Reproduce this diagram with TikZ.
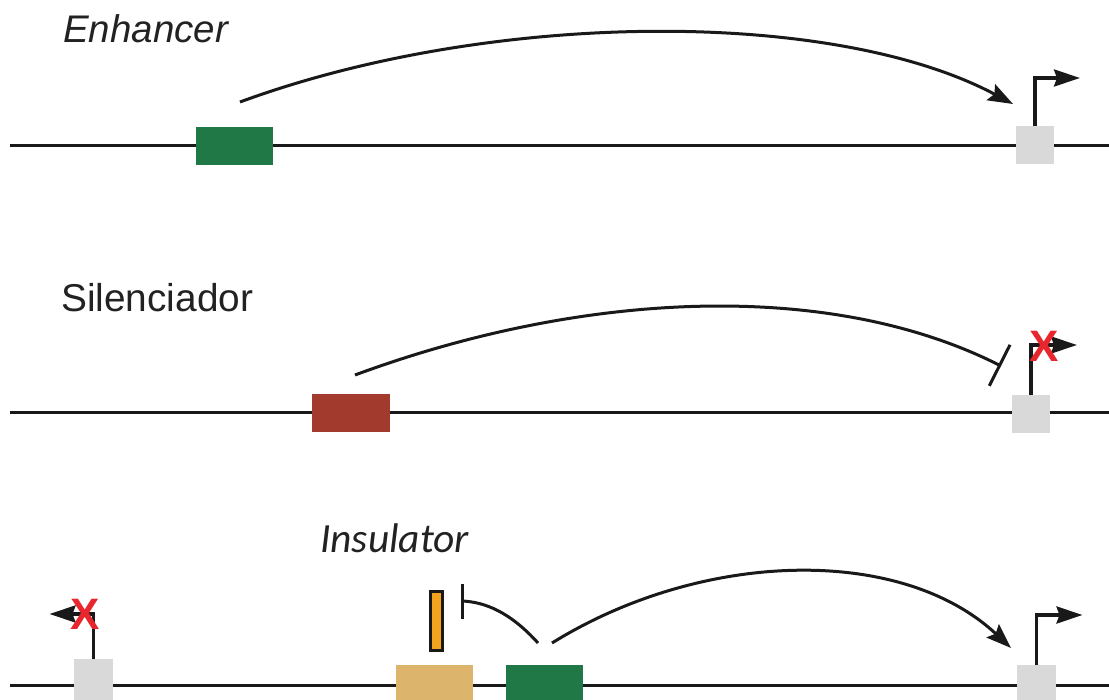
\documentclass[tikz,border=0pt]{standalone}
\usepackage{fontspec}
\setmainfont{Liberation Sans}
\newfontfamily\calibri{Carlito}
\usetikzlibrary{arrows.meta}
\definecolor{enhgreen}{HTML}{217847}
\definecolor{silred}{HTML}{A23B2E}
\definecolor{promgrey}{HTML}{D9D9D9}
\definecolor{instan}{HTML}{DDB46B}
\definecolor{insorange}{HTML}{F2A41E}
\definecolor{xred}{HTML}{E8262D}
\definecolor{txt}{HTML}{222222}
\tikzset{
  dna/.style={line width=3pt, black!90},
  elem/.style={draw=none, inner sep=0pt, outer sep=0pt, minimum height=38pt},
  prom/.style={elem, fill=promgrey, minimum width=38pt},
  loop/.style={line width=3pt, black!90, -{Stealth[length=25pt,width=18pt,inset=4pt]}},
  block/.style={line width=3pt, black!90, -{Bar[width=46pt,line width=3pt]}},
  tss/.style={line width=3.2pt, black!90, -{Stealth[length=26pt,width=17pt,inset=3pt]}},
  xmark/.style={text=xred, font=\bfseries\fontsize{44}{44}\selectfont, inner sep=0pt},
  lbl/.style={text=txt, inner sep=0pt, anchor=base west}
}
\begin{document}
\begin{tikzpicture}[x=1pt,y=-1pt]
\useasboundingbox (0,0) rectangle (1109,700);
\clip (0,0) rectangle (1109,700);
% labels
\node[lbl, font=\itshape\fontsize{38.5}{40}\selectfont] (lenh) at (63,43) {Enhancer};
\node[lbl, font=\fontsize{38.8}{40}\selectfont] (lsil) at (61,312) {Silenciador};
\node[lbl, font=\calibri\itshape\fontsize{41.5}{44}\selectfont] (lins) at (320,552) {Insulator};
% DNA lines
\coordinate (a1) at (10,146); \coordinate (b1) at (1109,146);
\coordinate (a2) at (10,413); \coordinate (b2) at (1109,413);
\coordinate (a3) at (10,685); \coordinate (b3) at (1109,685);
\draw[dna] (a1) -- (b1);
\draw[dna] (a2) -- (b2);
\draw[dna] (a3) -- (b3);
% row 1
\node[elem, fill=enhgreen, minimum width=77pt] (g1) at (234.5,146) {};
\node[prom] (p1) at (1035,145) {};
\coordinate (s1) at (240,102);
\coordinate (e1) at (1013,104);
\draw[loop] (s1) .. controls (490,10) and (833,8) .. (e1);
\draw[tss] (p1.north) -- ++(0,-48) -- ++(45,0);
% row 2
\node[elem, fill=silred, minimum width=78pt] (r2) at (351,413) {};
\node[prom] (p2) at (1031,414) {};
\coordinate (s2) at (355,375);
\coordinate (e2) at (1001,366);
\draw[block] (s2) .. controls (585,290) and (831,280) .. (e2);
\draw[tss] (p2.north) -- ++(0,-50) coordinate (k2) -- ++(46,0);
\node[xmark] (x2) at (1044,346) {X};
% row 3
\node[prom, minimum width=39pt, minimum height=52pt] (p3l) at (93.5,685) {};
\node[elem, fill=instan, minimum width=77pt, minimum height=40pt] (t3) at (434.5,685) {};
\node[elem, fill=enhgreen, minimum width=77pt, minimum height=40pt] (g3) at (544.5,685) {};
\node[prom, minimum width=39pt, minimum height=40pt] (p3r) at (1036.5,685) {};
\node[draw=black!90, line width=2.2pt, fill=insorange, inner sep=0pt, minimum width=12pt, minimum height=59pt] (ins) at (436.5,621) {};
\draw[tss] (p3l.north) -- ++(0,-45) -- ++(-44,0);
\node[xmark] (x3) at (85,614) {X};
\draw[tss] (p3r.north) -- ++(0,-50) -- ++(46,0);
\coordinate (s3) at (552,643);
\coordinate (e3) at (1011,648);
\draw[loop] (s3) .. controls (702,550) and (901,545) .. (e3);
\coordinate (s3b) at (538,643);
\coordinate (e3b) at (462,601);
\draw[line width=3pt, black!90] (s3b) .. controls (510,612) and (485,602) .. (e3b);
\coordinate (bt) at (462,584); \coordinate (bb) at (462,619);
\draw[line width=3pt, black!90] (bt) -- (bb);
\end{tikzpicture}
\end{document}
